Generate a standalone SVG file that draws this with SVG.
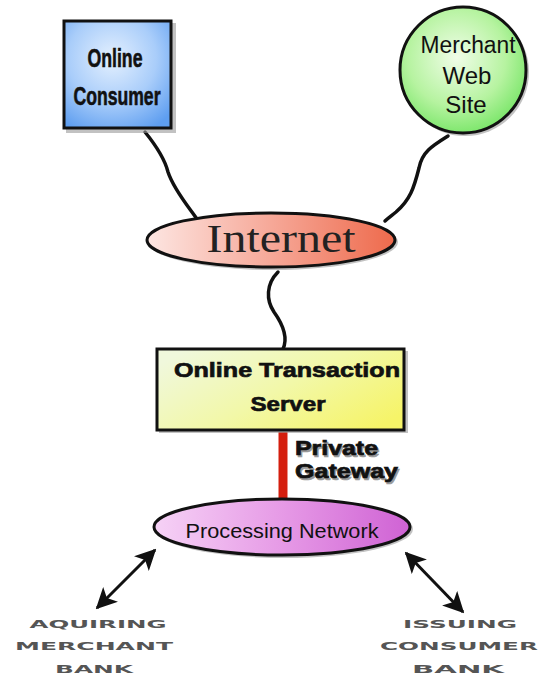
<svg xmlns="http://www.w3.org/2000/svg" width="540" height="675" viewBox="0 0 540 675">
  <defs>
    <radialGradient id="gBlue" cx="0.45" cy="0.35" r="0.75">
      <stop offset="0" stop-color="#e4f0fe"/>
      <stop offset="0.55" stop-color="#a9cdfa"/>
      <stop offset="1" stop-color="#5e9ef0"/>
    </radialGradient>
    <radialGradient id="gGreen" cx="0.45" cy="0.4" r="0.65">
      <stop offset="0" stop-color="#f0fde8"/>
      <stop offset="0.6" stop-color="#b6f3a0"/>
      <stop offset="1" stop-color="#72e462"/>
    </radialGradient>
    <linearGradient id="gRed" x1="0" y1="0" x2="1" y2="0">
      <stop offset="0" stop-color="#fde6e2"/>
      <stop offset="0.5" stop-color="#f6a898"/>
      <stop offset="1" stop-color="#ee6a4c"/>
    </linearGradient>
    <linearGradient id="gYellow" x1="0" y1="0.2" x2="1" y2="0.8">
      <stop offset="0" stop-color="#f0f8dc"/>
      <stop offset="0.5" stop-color="#f2f8a8"/>
      <stop offset="1" stop-color="#f6f468"/>
    </linearGradient>
    <linearGradient id="gPurple" x1="0" y1="0" x2="1" y2="0">
      <stop offset="0" stop-color="#f6d2f6"/>
      <stop offset="0.5" stop-color="#e69ae6"/>
      <stop offset="1" stop-color="#cf62d4"/>
    </linearGradient>
    <marker id="head" viewBox="0 0 12 12" refX="11" refY="6" markerWidth="7" markerHeight="7" orient="auto-start-reverse" markerUnits="strokeWidth">
      <path d="M0,0 L12,6 L0,12 L3,6 Z" fill="#111"/>
    </marker>
  </defs>
  <style>
    .wire { fill: none; stroke: #111; stroke-width: 3.5; stroke-linecap: round; }
    .outline { stroke: #111; stroke-width: 3; }
    .shadow { fill: #9a9a9a; opacity: 0.6; }
    .cond { font-family: "Liberation Sans", Arial, sans-serif; font-weight: bold; fill: #111; stroke: #111; stroke-width: 0.6; }
    .plain { font-family: "Liberation Sans", Arial, sans-serif; fill: #111; }
    .heavy { font-family: "Liberation Sans", Arial, sans-serif; font-weight: bold; fill: #111; stroke: #111; stroke-width: 0.7; }
    .heavy.ghost { fill: #999; stroke: #999; }
    .bank { font-family: "DejaVu Sans", "Liberation Sans", sans-serif; font-weight: bold; fill: #555; font-size: 11px; }
  </style>

  <g id="connectors">
    <path class="wire" d="M145,132 C158,148 165,160 168,172 C174,190 188,206 197,219"/>
    <path class="wire" d="M448,136 C432,146 422,152 419,168 C414,188 410,200 396,212 C391,216 388,218 385,221"/>
    <path class="wire" d="M278,272 C266,284 266,300 274,312 C284,326 288,338 283,349"/>
    <line x1="283" y1="432" x2="283" y2="499" stroke="#d41e0e" stroke-width="9"/>
    <line x1="155" y1="550" x2="97" y2="608" stroke="#111" stroke-width="3" marker-start="url(#head)" marker-end="url(#head)"/>
    <line x1="406" y1="553" x2="463" y2="612" stroke="#111" stroke-width="3" marker-start="url(#head)" marker-end="url(#head)"/>
  </g>

  <g id="online-consumer">
    <rect class="shadow" x="66" y="23" width="110" height="110"/>
    <rect class="outline" x="64" y="21" width="107" height="107" fill="url(#gBlue)"/>
    <text class="cond" x="115" y="67" font-size="25" text-anchor="middle" textLength="55" lengthAdjust="spacingAndGlyphs">Online</text>
    <text class="cond" x="117" y="105" font-size="25" text-anchor="middle" textLength="87" lengthAdjust="spacingAndGlyphs">Consumer</text>
  </g>

  <g id="merchant-web-site">
    <circle class="shadow" cx="465" cy="72" r="64"/>
    <circle class="outline" cx="463" cy="70" r="63" fill="url(#gGreen)"/>
    <text class="plain" x="468" y="53" font-size="23" text-anchor="middle" textLength="95" lengthAdjust="spacingAndGlyphs">Merchant</text>
    <text class="plain" x="467" y="84" font-size="24" text-anchor="middle">Web</text>
    <text class="plain" x="466" y="113" font-size="24" text-anchor="middle">Site</text>
  </g>

  <g id="internet">
    <ellipse class="shadow" cx="273" cy="242" rx="125" ry="28"/>
    <ellipse class="outline" cx="271" cy="240" rx="124" ry="27" fill="url(#gRed)"/>
    <text x="281" y="252" font-family="'Liberation Serif', 'Times New Roman', serif" font-size="39" fill="#222" text-anchor="middle" textLength="149" lengthAdjust="spacingAndGlyphs">Internet</text>
  </g>

  <g id="transaction-server">
    <rect class="shadow" x="159" y="351" width="249" height="82"/>
    <rect class="outline" x="157" y="349" width="247" height="81" fill="url(#gYellow)"/>
    <text class="heavy" x="287" y="377" font-size="21" text-anchor="middle" textLength="226" lengthAdjust="spacingAndGlyphs">Online Transaction</text>
    <text class="heavy" x="288" y="411" font-size="21" text-anchor="middle" textLength="75" lengthAdjust="spacingAndGlyphs">Server</text>
  </g>

  <g id="private-gateway">
    <text class="heavy ghost" x="296.5" y="456.5" font-size="20" textLength="83" lengthAdjust="spacingAndGlyphs">Private</text>
    <text class="heavy" x="295" y="455" font-size="20" textLength="83" lengthAdjust="spacingAndGlyphs">Private</text>
    <text class="heavy ghost" x="296.5" y="479.5" font-size="20" textLength="103" lengthAdjust="spacingAndGlyphs">Gateway</text>
    <text class="heavy" x="295" y="478" font-size="20" textLength="103" lengthAdjust="spacingAndGlyphs">Gateway</text>
  </g>

  <g id="processing-network">
    <ellipse class="shadow" cx="284" cy="529" rx="129" ry="29"/>
    <ellipse class="outline" cx="282" cy="527" rx="128" ry="28" fill="url(#gPurple)"/>
    <text class="plain" x="282" y="538" font-size="21" fill="#222" text-anchor="middle" textLength="193" lengthAdjust="spacingAndGlyphs">Processing Network</text>
  </g>

  <g id="acquiring-bank">
    <text class="bank" x="98" y="628" text-anchor="middle" textLength="137" lengthAdjust="spacingAndGlyphs">AQUIRING</text>
    <text class="bank" x="94" y="650" text-anchor="middle" textLength="158" lengthAdjust="spacingAndGlyphs">MERCHANT</text>
    <text class="bank" x="94" y="673" text-anchor="middle" textLength="78" lengthAdjust="spacingAndGlyphs">BANK</text>
  </g>

  <g id="issuing-bank">
    <text class="bank" x="460" y="628" text-anchor="middle" textLength="114" lengthAdjust="spacingAndGlyphs">ISSUING</text>
    <text class="bank" x="459" y="650" text-anchor="middle" textLength="158" lengthAdjust="spacingAndGlyphs">CONSUMER</text>
    <text class="bank" x="458" y="673" text-anchor="middle" textLength="92" lengthAdjust="spacingAndGlyphs">BANK</text>
  </g>
</svg>
